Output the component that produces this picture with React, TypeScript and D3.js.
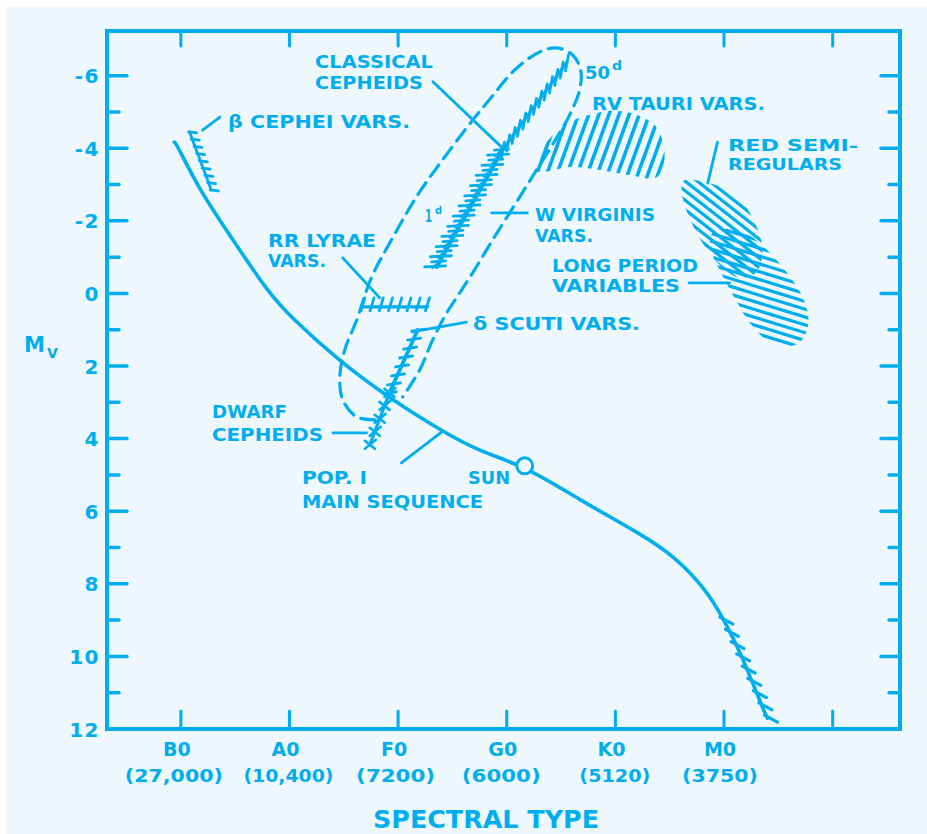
import React from 'react';
import * as d3 from 'd3';

const INK = '#00aeef';
const BG = '#eef7fc';
const FONT = "'DejaVu Sans', 'Liberation Sans', sans-serif";

// ---- axes ----
const spectralClasses = ['B0', 'A0', 'F0', 'G0', 'K0', 'M0'];
const spectralTemps = ['(27,000)', '(10,400)', '(7200)', '(6000)', '(5120)', '(3750)'];
const spectralTicks = [0, 1, 2, 3, 4, 5, 6];
const mvMajor = [-6, -4, -2, 0, 2, 4, 6, 8, 10, 12];
const mvMinor = [-5, -3, -1, 1, 3, 5, 7, 9, 11];

// ---- Pop I main sequence ----
const msSpec = [-0.06, -0.04, 0.17, 0.48, 0.80, 1.0, 1.463, 1.923, 2.383, 2.751, 3.165, 3.671, 4.223, 4.53, 4.84, 4.99, 5.14, 5.38, 5.40];
const msMv = [-4.17, -4.12, -2.85, -1.47, -0.05, 0.62, 1.88, 2.89, 3.76, 4.36, 4.75, 5.69, 6.61, 7.2, 8.17, 8.95, 9.8, 11.6, 11.7];
const sunSpec = 3.165;
const sunMv = 4.75;
// flare-star hatched end of main sequence
const mdSpec = [4.99, 5.40];
const mdMv = [9.0, 11.7];

// ---- instability strip (dashed outline) ----
const stripSpec = [1.785, 1.619, 1.49, 1.463, 1.509, 1.619, 1.757, 1.923, 2.18, 2.429, 2.659, 2.861, 3.073, 3.303, 3.459, 3.606, 3.68, 3.671, 3.579, 3.459, 3.275, 3.073, 2.87, 2.686, 2.567, 2.447, 2.318, 2.199, 2.042];
const stripMv = [3.485, 3.402, 2.934, 2.3, 1.556, 0.73, -0.455, -1.391, -2.713, -3.76, -4.669, -5.413, -6.157, -6.653, -6.763, -6.57, -6.157, -5.606, -4.917, -4.284, -3.402, -2.438, -1.474, -0.565, -0.014, 0.537, 1.281, 2.107, 2.851];

// ---- variable-star bands (spines) ----
const betaCepSpec = [0.08, 0.28];
const betaCepMv = [-4.45, -2.85];
const classCepSpec = [2.96, 3.55];
const classCepMv = [-3.95, -6.35];
const wVirSpec = [2.355, 2.96];
const wVirMv = [-0.73, -3.95];
const rrLyrSpec = [1.675, 2.27];
const rrLyrMv = [0.37, 0.37];
const deltaSctSpec = [1.92, 2.18];
const deltaSctMv = [2.74, 1.01];
const dwarfCepSpec = [1.74, 1.92];
const dwarfCepMv = [4.17, 2.74];

// ---- hatched regions ----
const rvTauSpec = [3.238, 3.349, 3.533, 3.763, 3.993, 4.223, 4.37, 4.443, 4.443, 4.37, 4.131, 3.855, 3.579, 3.349];
const rvTauMv = [-3.4, -4.09, -4.64, -4.92, -5.03, -4.89, -4.61, -4.09, -3.54, -3.18, -3.26, -3.4, -3.48, -3.35];
const srSpec = [4.627, 4.885, 5.124, 5.281, 5.354, 5.299, 5.143, 4.959, 4.802, 4.683, 4.618];
const srMv = [-3.1, -3.02, -2.66, -1.97, -1.2, -0.59, -0.43, -0.79, -1.39, -2.08, -2.66];
const lpvSpec = [4.894, 5.143, 5.345, 5.557, 5.722, 5.777, 5.694, 5.465, 5.253, 5.097, 4.959, 4.876];
const lpvMv = [-1.67, -1.75, -1.34, -0.65, 0.1, 0.79, 1.36, 1.42, 0.87, 0.12, -0.65, -1.25];

type Pt = [number, number];

function alongPts(p0: Pt, p1: Pt, n: number): Pt[] {
  const out: Pt[] = [];
  for (let i = 0; i < n; i++) {
    const t = n === 1 ? 0.5 : i / (n - 1);
    out.push([p0[0] + (p1[0] - p0[0]) * t, p0[1] + (p1[1] - p0[1]) * t]);
  }
  return out;
}

function hatch(pts: Pt[], angleDeg: number, spacing: number): [Pt, Pt][] {
  const xs = pts.map(p => p[0]);
  const ys = pts.map(p => p[1]);
  const x0 = d3.min(xs)!, x1 = d3.max(xs)!, y0 = d3.min(ys)!, y1 = d3.max(ys)!;
  const cx = (x0 + x1) / 2, cy = (y0 + y1) / 2;
  const R = Math.hypot(x1 - x0, y1 - y0) / 2 + 6;
  const a = (angleDeg * Math.PI) / 180;
  const dx = Math.cos(a), dy = -Math.sin(a);
  const nx = -dy, ny = dx;
  const n = Math.ceil(R / spacing);
  const out: [Pt, Pt][] = [];
  for (let k = -n; k <= n; k++) {
    const c: Pt = [cx + nx * k * spacing, cy + ny * k * spacing];
    out.push([[c[0] - dx * R, c[1] - dy * R], [c[0] + dx * R, c[1] + dy * R]]);
  }
  return out;
}

export default function App() {
  const W = 927, H = 834;
  const x = d3.scaleLinear().domain([-0.68, 6.62]).range([107, 900]);
  const y = d3.scaleLinear().domain([-7.23, 12]).range([31, 729]);
  const P = (s: number, m: number): Pt => [x(s), y(m)];
  const curve = d3.line<Pt>().curve(d3.curveCatmullRom.alpha(0.5));
  const smooth = d3.line<Pt>().curve(d3.curveBasis);
  const poly = d3.line<Pt>().curve(d3.curveCatmullRomClosed.alpha(0.5));

  const zipPts = (ss: number[], ms: number[]) => ss.map((s, i) => P(s, ms[i]));

  const ms = zipPts(msSpec, msMv);
  const strip = zipPts(stripSpec, stripMv);
  const rv = zipPts(rvTauSpec, rvTauMv);
  const sr = zipPts(srSpec, srMv);
  const lpv = zipPts(lpvSpec, lpvMv);

  const seg = (a: Pt, b: Pt, key: string | number, w = 3) => (
    <line key={key} x1={a[0]} y1={a[1]} x2={b[0]} y2={b[1]} stroke={INK} strokeWidth={w} strokeLinecap="round" />
  );

  // spines
  const bc = zipPts(betaCepSpec, betaCepMv);
  const cc = zipPts(classCepSpec, classCepMv);
  const wv = zipPts(wVirSpec, wVirMv);
  const rr = zipPts(rrLyrSpec, rrLyrMv);
  const ds = zipPts(deltaSctSpec, deltaSctMv);
  const dc = zipPts(dwarfCepSpec, dwarfCepMv);
  const md = zipPts(mdSpec, mdMv);

  const marks: JSX.Element[] = [];
  // beta Cephei
  marks.push(seg(bc[0], bc[1], 'bcs', 2.8));
  alongPts(bc[0], bc[1], 9).forEach((p, i) => marks.push(seg([p[0] - 1, p[1]], [p[0] + 7, p[1] + 1], 'bc' + i, 2.8)));
  // classical cepheids
  marks.push(seg(cc[0], cc[1], 'ccs', 3.2));
  alongPts(cc[0], cc[1], 13).forEach((p, i) => marks.push(seg([p[0] - 1, p[1] + 8], [p[0] + 2, p[1] - 8], 'cc' + i, 2.8)));
  // W Virginis
  marks.push(seg(wv[0], wv[1], 'wvs', 4));
  alongPts(wv[0], wv[1], 24).forEach((p, i) => {
    const even = i % 2 === 0;
    marks.push(seg([p[0] - (even ? 12 : 8), p[1]], [p[0] + (even ? 9 : 6), p[1] - 1], 'wv' + i, 2.8));
    if (!even) marks.push(seg([p[0] - 7, p[1] + 6], [p[0] + 2, p[1] - 2], 'wvd' + i, 2.6));
  });
  // RR Lyrae
  marks.push(seg(rr[0], rr[1], 'rrs', 3.2));
  alongPts(rr[0], rr[1], 8).forEach((p, i) => marks.push(seg([p[0] - 2, p[1] + 4], [p[0] + 2, p[1] - 9], 'rr' + i, 2.8)));
  // delta Scuti
  marks.push(seg(ds[0], ds[1], 'dss', 3.8));
  alongPts(ds[0], ds[1], 8).forEach((p, i) => marks.push(seg([p[0] - 6, p[1] + 1], [p[0] + 7, p[1] - 1], 'ds' + i, 2.8)));
  // dwarf cepheids
  marks.push(seg(dc[0], dc[1], 'dcs', 3.2));
  alongPts(dc[0], dc[1], 5).forEach((p, i) => {
    marks.push(seg([p[0] - 5, p[1] - 4], [p[0] + 5, p[1] + 4], 'dca' + i, 2.6));
    marks.push(seg([p[0] - 5, p[1] + 4], [p[0] + 6, p[1] - 5], 'dcb' + i, 2.6));
  });
  // M-dwarf hatching
  alongPts(md[0], md[1], 9).forEach((p, i) => marks.push(seg([p[0] - 3, p[1] - 3], [p[0] + 10, p[1] + 4], 'md' + i, 3.2)));

  const leader = (s0: number, m0: number, s1: number, m1: number, key: string) => seg(P(s0, m0), P(s1, m1), key, 2.8);

  const lbl = { fontFamily: FONT, fontWeight: 700, fill: INK } as const;
  const T = (txt: string, lx: number, by: number, w: number, fs = 17, key?: string) => (
    <text key={key ?? txt + lx + by} x={lx} y={by} fontSize={fs} textLength={w} lengthAdjust="spacingAndGlyphs" style={lbl}>{txt}</text>
  );

  const rvH = hatch(rv, 70, 9.5);
  const srH = hatch(sr, -38, 7.5);
  const lpvH = hatch(lpv, -17, 7.5);

  // label layout for the spectral axis
  const tempWidths = [98, 90, 79, 79, 71, 76];
  const tempShift = [-7, -1, -2.5, -5.5, -0.5, -4];

  return (
    <svg width={W} height={H} style={{ position: 'absolute', left: 0, top: 0, background: '#ffffff' }}>
      <rect x={6} y={7} width={W - 6} height={H - 7} fill={BG} />
      <defs>
        <clipPath id="clipRV"><path d={poly(rv)!} /></clipPath>
        <clipPath id="clipSR"><path d={poly(sr)!} /></clipPath>
        <clipPath id="clipLPV"><path d={poly(lpv)!} /></clipPath>
      </defs>

      {/* frame */}
      <rect x={x(-0.68)} y={y(-7.23)} width={x(6.62) - x(-0.68)} height={y(12) - y(-7.23)} fill="none" stroke={INK} strokeWidth={4} />

      {/* left & right axis ticks */}
      {mvMajor.filter(m => m < 12).map(m => (
        <g key={'maj' + m}>
          <line x1={x(-0.68)} x2={x(-0.68) + 20} y1={y(m)} y2={y(m)} stroke={INK} strokeWidth={3.5} strokeLinecap="round" />
          <line x1={x(6.62)} x2={x(6.62) - 19} y1={y(m)} y2={y(m)} stroke={INK} strokeWidth={3.5} strokeLinecap="round" />
        </g>
      ))}
      {mvMinor.map(m => (
        <g key={'min' + m}>
          <line x1={x(-0.68)} x2={x(-0.68) + 12} y1={y(m)} y2={y(m)} stroke={INK} strokeWidth={3.5} strokeLinecap="round" />
          <line x1={x(6.62)} x2={x(6.62) - 11} y1={y(m)} y2={y(m)} stroke={INK} strokeWidth={3.5} strokeLinecap="round" />
        </g>
      ))}
      {mvMajor.map(m => (
        <text key={'ml' + m} x={100} y={y(m) + 7.5} fontSize={20} letterSpacing={1.5} textAnchor="end" style={lbl}>{String(m)}</text>
      ))}

      {/* top & bottom ticks */}
      {spectralTicks.map(s => (
        <g key={'st' + s}>
          <line x1={x(s)} x2={x(s)} y1={y(12)} y2={y(12) - 18} stroke={INK} strokeWidth={3} strokeLinecap="round" />
          <line x1={x(s)} x2={x(s)} y1={y(-7.23)} y2={y(-7.23) + 15} stroke={INK} strokeWidth={3} strokeLinecap="round" />
        </g>
      ))}
      {spectralClasses.map((c, i) => (
        <text key={'sc' + c} x={x(i) - 4} y={756} fontSize={19} textAnchor="middle" style={lbl}>{c}</text>
      ))}
      {spectralTemps.map((t, i) => (
        <text key={'tt' + t} x={x(i) + tempShift[i] - tempWidths[i] / 2} y={782} fontSize={18} textLength={tempWidths[i]} lengthAdjust="spacingAndGlyphs" style={lbl}>{t}</text>
      ))}
      <text x={373} y={828} fontSize={25} textLength={226} lengthAdjust="spacingAndGlyphs" style={lbl}>SPECTRAL TYPE</text>

      {/* Mv axis label */}
      <text x={24} y={352} fontSize={21} style={lbl}>M</text>
      <text x={47} y={358} fontSize={14} style={lbl}>V</text>

      {/* hatched regions */}
      <g clipPath="url(#clipRV)">
        {rvH.map((l, i) => seg(l[0], l[1], 'rvh' + i, 3.6))}
      </g>
      <g clipPath="url(#clipSR)">
        {srH.map((l, i) => seg(l[0], l[1], 'srh' + i, 3.2))}
      </g>
      <g clipPath="url(#clipLPV)">
        {lpvH.map((l, i) => seg(l[0], l[1], 'lpvh' + i, 3.2))}
      </g>

      {/* instability strip */}
      <path d={curve(strip)!} fill="none" stroke={INK} strokeWidth={3.2} strokeDasharray="14 8" strokeLinecap="round" />

      {/* main sequence */}
      <path d={smooth(ms)!} fill="none" stroke={INK} strokeWidth={3.6} strokeLinecap="round" />
      <circle cx={x(sunSpec)} cy={y(sunMv)} r={8} fill={BG} stroke={INK} strokeWidth={3} />

      {marks}

      {/* leaders */}
      {leader(0.2, -4.5, 0.36, -4.86, 'lbc')}
      {leader(2.32, -5.83, 2.96, -4.01, 'lcc')}
      {leader(2.86, -2.22, 3.19, -2.22, 'lwv')}
      {leader(1.49, -0.98, 1.83, 0.12, 'lrr')}
      {leader(2.13, 1.06, 2.63, 0.79, 'lds')}
      {leader(1.40, 3.84, 1.71, 3.84, 'ldc')}
      {leader(2.03, 4.67, 2.40, 3.82, 'lms')}
      {leader(4.85, -3.04, 4.94, -4.17, 'lsr')}
      {leader(4.68, -0.29, 5.05, -0.29, 'llpv')}

      {/* labels */}
      {T('β CEPHEI VARS.', 228, 128, 182)}
      {T('CLASSICAL', 315, 68, 118)}
      {T('CEPHEIDS', 315, 89, 108)}
      {T('50', 585, 79, 25)}
      {T('d', 612, 70, 10, 12)}
      {T('RV TAURI VARS.', 592, 110, 173)}
      {T('RED SEMI-', 728, 151, 130, 16)}
      {T('REGULARS', 728, 170, 114, 16)}
      {T('1', 425, 222, 7)}
      {T('d', 435, 214, 7, 11)}
      {T('W VIRGINIS', 535, 221, 120)}
      {T('VARS.', 535, 242, 58)}
      {T('RR LYRAE', 268, 247, 108)}
      {T('VARS.', 268, 267, 58)}
      {T('LONG PERIOD', 552, 272, 146)}
      {T('VARIABLES', 552, 292, 128)}
      {T('δ SCUTI VARS.', 473, 330, 167)}
      {T('DWARF', 212, 418, 75)}
      {T('CEPHEIDS', 212, 441, 111)}
      {T('POP. I', 302, 484, 65)}
      {T('MAIN SEQUENCE', 302, 508, 181)}
      {T('SUN', 468, 484, 42)}
    </svg>
  );
}
